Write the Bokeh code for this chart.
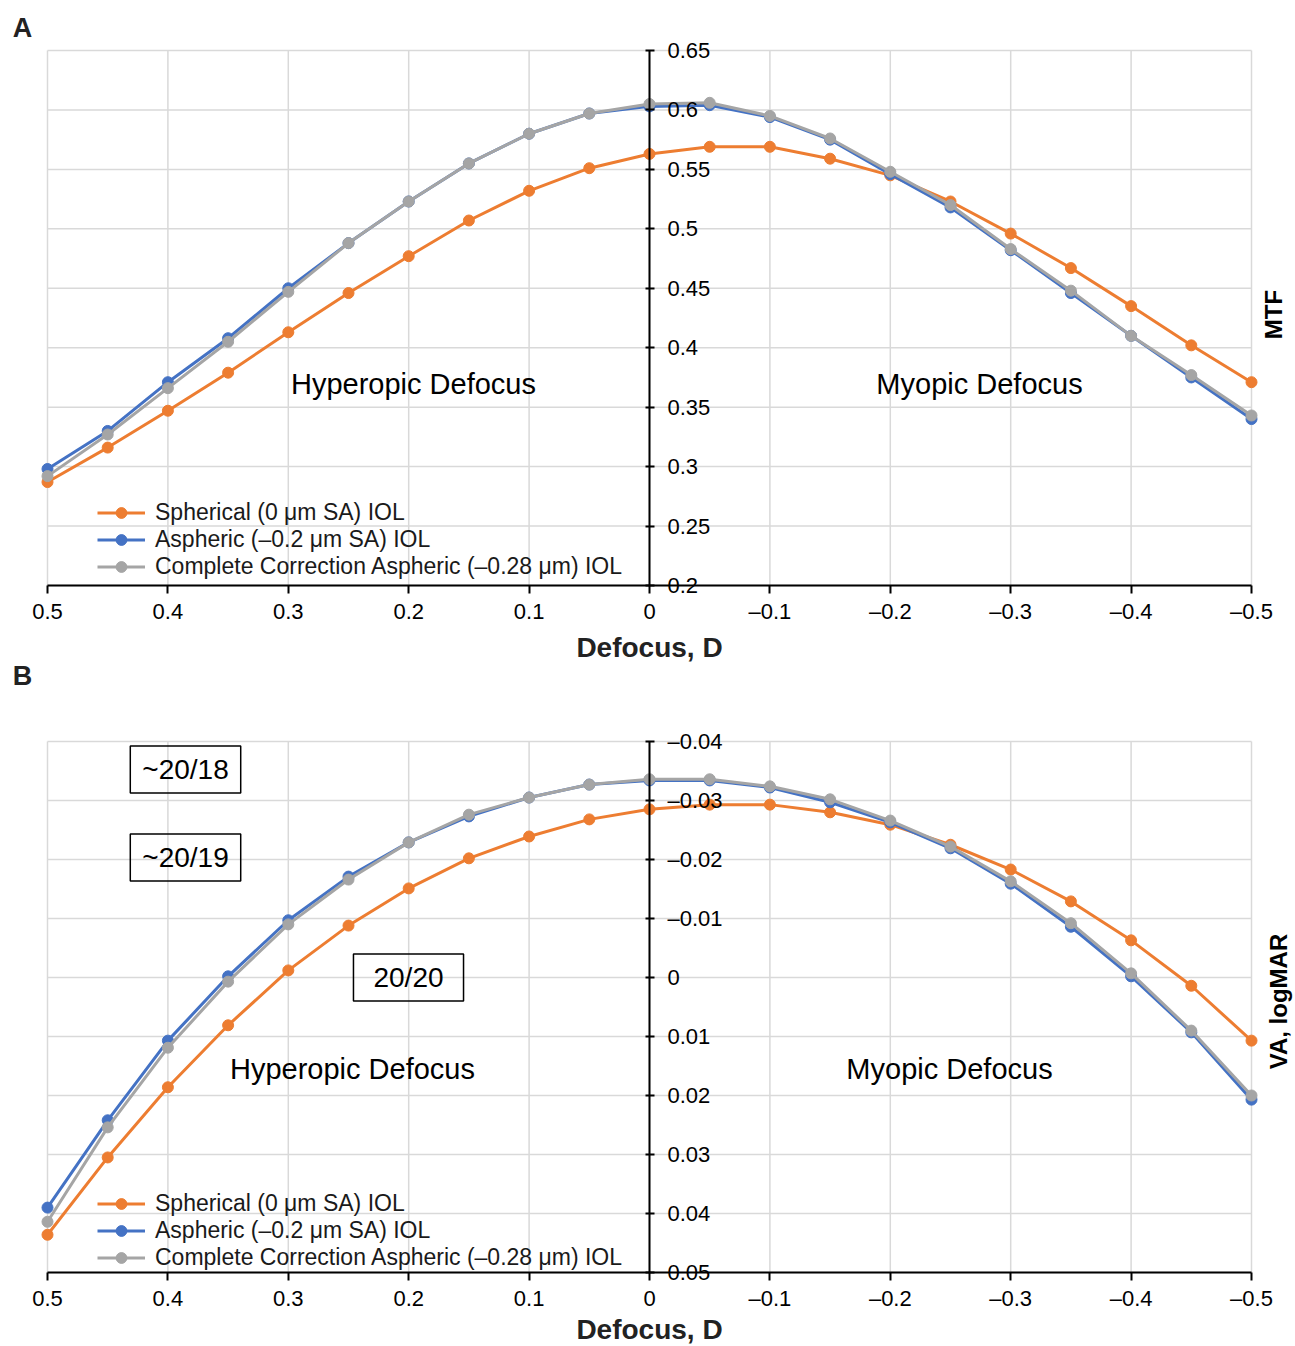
from math import pi
from bokeh.plotting import figure
from bokeh.models import Range1d, FixedTicker, Label
from bokeh.layouts import column
from bokeh.embed import file_html
from bokeh.resources import INLINE

# ---------------- data ----------------
defocus = [0.5, 0.45, 0.4, 0.35, 0.3, 0.25, 0.2, 0.15, 0.1, 0.05, 0.0,
           -0.05, -0.1, -0.15, -0.2, -0.25, -0.3, -0.35, -0.4, -0.45, -0.5]

series_names = ["Spherical (0 \u03bcm SA) IOL",
                "Aspheric (\u20130.2 \u03bcm SA) IOL",
                "Complete Correction Aspheric (\u20130.28 \u03bcm) IOL"]
series_colors = ["#ED7D31", "#4472C4", "#A5A5A5"]

mtf_spherical = [0.287, 0.316, 0.347, 0.379, 0.413, 0.446, 0.477, 0.507, 0.532, 0.551, 0.563,
                 0.569, 0.569, 0.559, 0.545, 0.523, 0.496, 0.467, 0.435, 0.402, 0.371]
mtf_aspheric = [0.298, 0.330, 0.371, 0.408, 0.450, 0.488, 0.523, 0.555, 0.580, 0.597, 0.603,
                0.604, 0.594, 0.575, 0.546, 0.518, 0.482, 0.446, 0.410, 0.375, 0.340]
mtf_complete = [0.292, 0.327, 0.366, 0.405, 0.447, 0.488, 0.523, 0.555, 0.580, 0.597, 0.605,
                0.606, 0.595, 0.576, 0.548, 0.520, 0.483, 0.448, 0.410, 0.377, 0.343]

va_spherical = [0.0436, 0.0305, 0.0186, 0.0081, -0.0012, -0.0088, -0.0151, -0.0202, -0.0239, -0.0268, -0.0285,
                -0.0293, -0.0293, -0.0280, -0.0259, -0.0225, -0.0183, -0.0129, -0.0063, 0.0014, 0.0107]
va_aspheric = [0.0390, 0.0242, 0.0107, -0.0002, -0.0097, -0.0171, -0.0229, -0.0273, -0.0305, -0.0327, -0.0334,
               -0.0334, -0.0322, -0.0297, -0.0263, -0.0219, -0.0159, -0.0086, -0.0002, 0.0093, 0.0207]
va_complete = [0.0414, 0.0254, 0.0119, 0.0007, -0.0090, -0.0166, -0.0229, -0.0276, -0.0305, -0.0327, -0.0336,
               -0.0336, -0.0324, -0.0302, -0.0266, -0.0222, -0.0163, -0.0092, -0.0007, 0.0090, 0.0200]

x_ticks = [0.5, 0.4, 0.3, 0.2, 0.1, 0, -0.1, -0.2, -0.3, -0.4, -0.5]
x_tick_labels = ["0.5", "0.4", "0.3", "0.2", "0.1", "0",
                 "\u20130.1", "\u20130.2", "\u20130.3", "\u20130.4", "\u20130.5"]

mtf_ticks = [0.2, 0.25, 0.3, 0.35, 0.4, 0.45, 0.5, 0.55, 0.6, 0.65]
mtf_tick_labels = ["0.2", "0.25", "0.3", "0.35", "0.4", "0.45", "0.5", "0.55", "0.6", "0.65"]

va_ticks = [-0.04, -0.03, -0.02, -0.01, 0, 0.01, 0.02, 0.03, 0.04, 0.05]
va_tick_labels = ["\u20130.04", "\u20130.03", "\u20130.02", "\u20130.01", "0",
                  "0.01", "0.02", "0.03", "0.04", "0.05"]

region_labels = ["Hyperopic Defocus", "Myopic Defocus"]
acuity_labels = ["~20/18", "~20/19", "20/20"]

# ---------------- style / layout ----------------
FONT = "Liberation Sans"
GRID = "#d9d9d9"
W = 1295
PX_L, PX_R = 47, 1251          # pixel columns of x = 0.5 and x = -0.5


def x_of(px):
    return 0.5 - (px - PX_L) / (PX_R - PX_L)


def make_panel(H, py_top, py_bot, yticks, ylabels, ys, ylabel_text, ylabel_px, ylabel_size,
               letter, letter_px, legend_bottom_px, tick_standoff, label_standoff):
    y_top, y_bot = yticks[-1], yticks[0]
    if ylabels[0].startswith("\u2013"):
        y_top, y_bot = yticks[0], yticks[-1]

    def y_of(py):
        return y_top + (py - py_top) / (py_bot - py_top) * (y_bot - y_top)

    p = figure(width=W, height=H,
               x_range=Range1d(x_of(0), x_of(W)), y_range=Range1d(y_of(H), y_of(0)),
               output_backend="svg", toolbar_location=None,
               y_axis_location="right", min_border=0)
    p.outline_line_color = None
    p.background_fill_color = "white"
    p.border_fill_color = "white"
    p.xgrid.visible = False
    p.ygrid.visible = False

    # grid lines drawn from the tick arrays
    ylo, yhi = min(yticks), max(yticks)
    p.segment(x0=x_ticks, x1=x_ticks, y0=[ylo] * len(x_ticks), y1=[yhi] * len(x_ticks),
              line_color=GRID, line_width=1.5, level="underlay")
    p.segment(x0=[0.5] * len(yticks), x1=[-0.5] * len(yticks), y0=yticks, y1=yticks,
              line_color=GRID, line_width=1.5, level="underlay")

    # x axis along the bottom value of the scale
    xa = p.xaxis[0]
    xa.fixed_location = y_bot
    xa.bounds = (-0.5, 0.5)
    xa.ticker = FixedTicker(ticks=x_ticks)
    xa.major_label_overrides = {t: l for t, l in zip(x_ticks, x_tick_labels)}
    xa.minor_tick_line_color = None
    xa.major_tick_in = 0
    xa.major_tick_out = 8
    xa.axis_line_color = "black"
    xa.axis_line_width = 2
    xa.major_tick_line_width = 2
    xa.major_label_text_font = FONT
    xa.major_label_text_font_size = "22px"
    xa.major_label_text_color = "black"
    xa.major_label_standoff = tick_standoff
    xa.axis_label = "Defocus, D"
    xa.axis_label_text_font = FONT
    xa.axis_label_text_font_style = "bold"
    xa.axis_label_text_font_size = "28px"
    xa.axis_label_text_color = "#222222"
    xa.axis_label_standoff = label_standoff

    # y axis at x = 0
    ya = p.yaxis[0]
    ya.fixed_location = 0
    ya.bounds = (ylo, yhi)
    ya.ticker = FixedTicker(ticks=yticks)
    ya.major_label_overrides = {t: l for t, l in zip(yticks, ylabels)}
    ya.minor_tick_line_color = None
    ya.major_tick_in = 4
    ya.major_tick_out = 5
    ya.axis_line_color = "black"
    ya.axis_line_width = 2
    ya.major_tick_line_width = 2
    ya.major_label_text_font = FONT
    ya.major_label_text_font_size = "22px"
    ya.major_label_text_color = "black"
    ya.major_label_standoff = 13

    for name, color, yv in zip(series_names, series_colors, ys):
        p.line(defocus, yv, line_color=color, line_width=3, legend_label=name)
        p.scatter(defocus, yv, size=11, fill_color=color, line_color=color, legend_label=name)

    lg = p.legend[0]
    lg.location = (97, H - legend_bottom_px)
    lg.padding = 0
    lg.margin = 0
    lg.spacing = 0
    lg.glyph_width = 48
    lg.glyph_height = 27
    lg.label_height = 27
    lg.label_standoff = 10
    lg.background_fill_alpha = 0
    lg.border_line_color = None
    lg.label_text_font = FONT
    lg.label_text_font_size = "23px"
    lg.label_text_color = "#1a1a1a"

    p.add_layout(Label(x=x_of(ylabel_px[0]), y=y_of(ylabel_px[1]), text=ylabel_text, angle=pi / 2,
                       text_align="center", text_baseline="middle", text_font=FONT,
                       text_font_style="bold", text_font_size=ylabel_size, text_color="black"))
    p.add_layout(Label(x=x_of(letter_px[0]), y=y_of(letter_px[1]), text=letter,
                       text_align="center", text_baseline="middle", text_font=FONT,
                       text_font_style="bold", text_font_size="27px", text_color="#222222"))
    return p, y_of


# Panel A (figure rows 0..662)
pA, yA = make_panel(662, 50, 585, mtf_ticks, mtf_tick_labels,
                    [mtf_spherical, mtf_aspheric, mtf_complete],
                    "MTF", (1273, 314), "24px", "A", (22, 27), 579.5, 5, 5)
for txt, (px, py) in zip(region_labels, [(413, 383), (979, 383)]):
    pA.add_layout(Label(x=x_of(px), y=yA(py), text=txt, text_align="center",
                        text_baseline="middle", text_font=FONT, text_font_size="29px",
                        text_color="black"))

# Panel B (figure rows 662..1346)
OFF = 662
pB, yB = make_panel(684, 741 - OFF, 1272 - OFF, va_ticks, va_tick_labels,
                    [va_spherical, va_aspheric, va_complete],
                    "VA, logMAR", (1278, 1001 - OFF), "24px", "B", (22, 675 - OFF),
                    1270.5 - OFF, 5, 0)
for txt, (px, py) in zip(region_labels, [(352, 1068), (949, 1068)]):
    pB.add_layout(Label(x=x_of(px), y=yB(py - OFF), text=txt, text_align="center",
                        text_baseline="middle", text_font=FONT, text_font_size="29px",
                        text_color="black"))
box_centers = [(185, 769), (185, 857), (408, 977)]
box_pads = [(12, 12, 8, 8), (12, 12, 8, 8), (20, 20, 8, 8)]   # left, right, top, bottom
for txt, (px, py), pad in zip(acuity_labels, box_centers, box_pads):
    pB.add_layout(Label(x=x_of(px), y=yB(py - OFF), text=txt, text_align="center",
                        text_baseline="middle", text_font=FONT, text_font_size="28px",
                        text_color="black", border_line_color="black", border_line_width=1.5,
                        background_fill_color=None, padding=pad))

layout = column(pA, pB)
open("out.html", "w").write(file_html(layout, INLINE))
